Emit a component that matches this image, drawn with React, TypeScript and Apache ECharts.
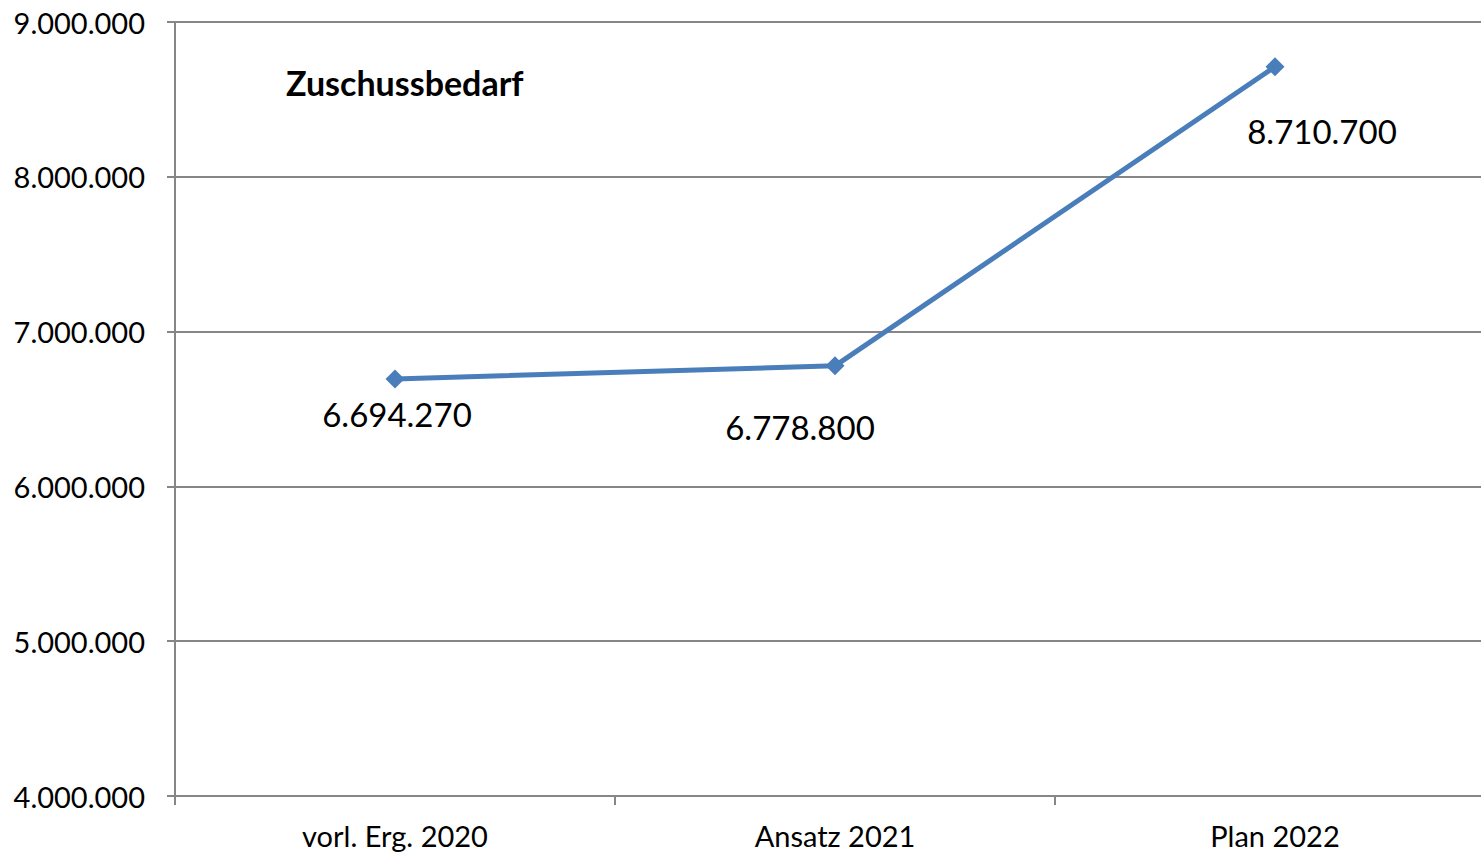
import React, { useEffect, useRef } from "react";
import * as echarts from "echarts";

const categories = ["vorl. Erg. 2020", "Ansatz 2021", "Plan 2022"];
const values = [6694270, 6778800, 8710700];
const labelOffsets: [number, number][] = [
  [2, 35],
  [-35, 61],
  [47, 64],
];
const titleText = "Zuschussbedarf";

const fmt = (v: number) => String(Math.round(v)).replace(/\B(?=(\d{3})+(?!\d))/g, ".");

export default function App() {
  const ref = useRef<HTMLDivElement>(null);
  useEffect(() => {
    if (!ref.current) return;
    const chart = echarts.init(ref.current, undefined, { renderer: "svg" });
    const font = "Lato, 'Open Sans', sans-serif";
    chart.setOption({
      animation: false,
      backgroundColor: "#fff",
      textStyle: { fontFamily: font },
      title: {
        text: titleText,
        left: 281,
        top: 60,
        textStyle: { fontFamily: font, fontSize: 34, fontWeight: "bold", color: "#000" },
      },
      grid: { left: 175, top: 22, width: 1320, height: 774, containLabel: false },
      xAxis: {
        type: "category",
        data: categories,
        boundaryGap: true,
        axisLine: { lineStyle: { color: "#868686", width: 2 } },
        axisTick: { show: true, length: 9, lineStyle: { color: "#868686", width: 2 } },
        axisLabel: { color: "#000", fontSize: 29, margin: 25, fontFamily: font },
      },
      yAxis: {
        type: "value",
        min: 4000000,
        max: 9000000,
        interval: 1000000,
        axisLine: { show: true, lineStyle: { color: "#868686", width: 2 } },
        axisTick: { show: true, length: 8, lineStyle: { color: "#868686", width: 2 } },
        splitLine: { show: true, lineStyle: { color: "#868686", width: 2 } },
        axisLabel: { color: "#000", fontSize: 29, margin: 30, fontFamily: font, formatter: (v: number) => fmt(v) },
      },
      series: [
        {
          type: "line",
          data: values.map((v, i) => ({
            value: v,
            label: { offset: labelOffsets[i] },
          })),
          symbol: "diamond",
          symbolSize: 19,
          itemStyle: { color: "#4A7EBB" },
          lineStyle: { color: "#4A7EBB", width: 5 },
          label: {
            show: true,
            position: "inside",
            color: "#000",
            fontSize: 33,
            fontFamily: font,
            formatter: (p: any) => fmt(p.value),
          },
        },
      ],
    });
    return () => chart.dispose();
  }, []);
  return (
    <div style={{ position: "fixed", left: 0, top: 0, width: 1481, height: 856, overflow: "hidden", background: "#fff" }}>
      <div ref={ref} style={{ width: 1500, height: 856 }} />
    </div>
  );
}
